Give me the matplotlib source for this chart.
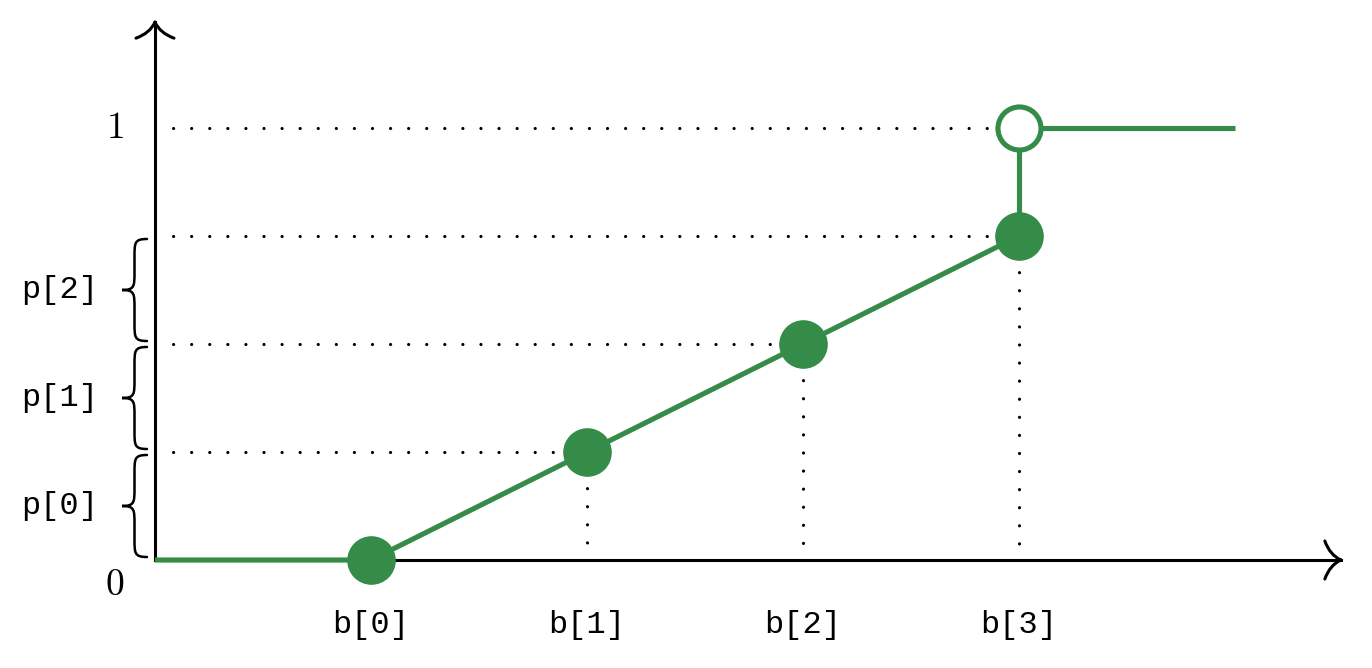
import numpy as np
import matplotlib.pyplot as plt
from matplotlib.patches import PathPatch
from matplotlib.path import Path

plt.rcParams['mathtext.fontset'] = 'cm'

# data
bins = [1, 2, 3, 4]                 # positions of b[0]..b[3]
cdf = [0.0, 0.25, 0.5, 0.75]        # cumulative value at each bin
x_start, x_end = 0, 5
b_labels = ['b[0]', 'b[1]', 'b[2]', 'b[3]']
p_labels = ['p[0]', 'p[1]', 'p[2]']

GREEN = '#358c48'
MONO = 'Liberation Mono'

fig = plt.figure(figsize=(13.72, 6.68), dpi=100)
ax = fig.add_axes([0, 0, 1, 1])
ax.set_xlim(-155 / 216, (1372 - 155) / 216)
ax.set_ylim((560 - 668) / 432, 560 / 432)
ax.axis('off')

# px -> data helpers
px = 1 / 216
py = 1 / 432


def arrow_head(tip, direction):
    """tikz-like curved 'to' head, sizes in px"""
    tx, ty = tip
    dx, dy = direction
    nx, ny = -dy, dx
    verts, codes = [], []
    for s in (1, -1):
        pts = [(-16, 19 * s), (-11, 5 * s), (0, 0)]
        for a, b in pts:
            X = tx + (a * dx + b * nx) * px
            Y = ty + (a * dy + b * ny) * py
            verts.append((X, Y))
        codes += [Path.MOVETO, Path.CURVE3, Path.CURVE3]
    ax.add_patch(PathPatch(Path(verts, codes), fill=False, lw=2.2,
                           ec='black', capstyle='round', zorder=2))


# axes with arrows
x_tip, y_tip = 5.49, 1.245
ax.plot([0, x_tip], [0, 0], color='black', lw=2.2, zorder=2)
ax.plot([0, 0], [0, y_tip], color='black', lw=2.2, zorder=2)
arrow_head((x_tip, 0), (1, 0))
arrow_head((0, y_tip), (0, 1))

# dotted guides
dot = dict(color='black', lw=2.3, linestyle=(0, (0.01, 5.65)),
           dash_capstyle='round', zorder=1)
ax.plot([0, bins[-1]], [1, 1], **dot)
for xb, yb in zip(bins[1:], cdf[1:]):
    ax.plot([0, xb], [yb, yb], **dot)
    ax.plot([xb, xb], [yb, 0], **dot)

# piecewise linear cdf
ax.plot([x_start] + bins, [0] + cdf, color=GREEN, lw=3.7,
        solid_capstyle='butt', zorder=3)
ax.plot([bins[-1], bins[-1]], [cdf[-1], 1], color=GREEN, lw=3.7, zorder=3)
ax.plot([bins[-1], x_end], [1, 1], color=GREEN, lw=3.7,
        solid_capstyle='butt', zorder=3)
ax.plot(bins, cdf, 'o', color=GREEN, markersize=35, mew=0, zorder=4)
ax.plot([bins[-1]], [1], 'o', mfc='white', mec=GREEN, markersize=31,
        mew=3.7, zorder=5)


def brace(y0, y1, xr=-8, amp=25):
    """curly brace opening right, between y0 and y1 (data), sizes in px"""
    ym = (y0 + y1) / 2
    xa = xr * px
    xm = (xr - amp / 2) * px
    xt = (xr - amp) * px
    q = 18 * py
    verts = [(xa, y1),
             (xm, y1), (xm, y1 - q * 0.2), (xm, y1 - q),
             (xm, ym + q),
             (xm, ym + q * 0.2), (xm, ym), (xt, ym),
             (xm, ym), (xm, ym - q * 0.2), (xm, ym - q),
             (xm, y0 + q),
             (xm, y0 + q * 0.2), (xm, y0), (xa, y0)]
    codes = [Path.MOVETO,
             Path.CURVE4, Path.CURVE4, Path.CURVE4,
             Path.LINETO,
             Path.CURVE4, Path.CURVE4, Path.CURVE4,
             Path.CURVE4, Path.CURVE4, Path.CURVE4,
             Path.LINETO,
             Path.CURVE4, Path.CURVE4, Path.CURVE4]
    ax.add_patch(PathPatch(Path(verts, codes), fill=False, lw=1.8,
                           ec='black', capstyle='round', zorder=2))


levels = [0] + cdf[1:] + [1]
for i, lab in enumerate(p_labels):
    lo, hi = levels[i], levels[i + 1]
    brace(lo + 3 * py, hi - 3 * py)
    ax.text(-0.44, (lo + hi) / 2, lab, family=MONO, fontsize=23,
            ha='center', va='center')

for xb, lab in zip(bins, b_labels):
    ax.text(xb, -0.15, lab, family=MONO, fontsize=23,
            ha='center', va='center')

ax.text(-40 * px, -25 * py, '$0$', fontsize=27, ha='center', va='center')
ax.text(-40 * px, 1, '$1$', fontsize=27, ha='center', va='center')

fig.savefig('out.png', dpi=100)
